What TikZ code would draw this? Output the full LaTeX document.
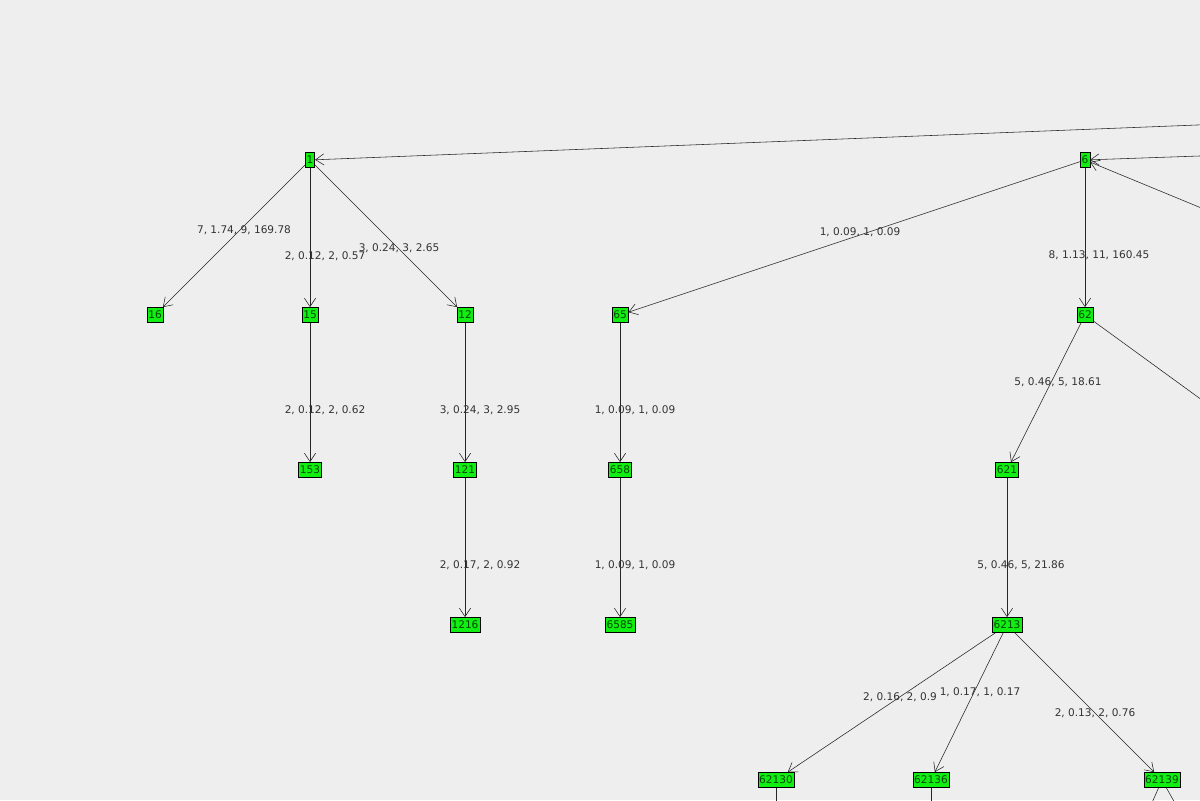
\documentclass[tikz,border=0pt]{standalone}
\usepackage{fontspec}
\setmainfont{DejaVu Sans}
\usetikzlibrary{arrows.meta,positioning}

\definecolor{canvas}{HTML}{EEEEEE}
\definecolor{vert}{HTML}{11EE11}
\definecolor{ink}{HTML}{333333}

\tikzset{
	tnode/.style={draw=black, fill=vert, inner sep=1pt, minimum height=0.38cm, font=\fontsize{7.5}{8}\selectfont, text=black!70!vert},
	tedge/.style={-{Straight Barb[length=6pt,width=8pt]}, black!85},
	tlab/.style={font=\fontsize{7.5}{8}\selectfont, text=ink, fill=none, inner sep=0pt}
}

\begin{document}
\begin{tikzpicture}[x=0.025cm, y=-0.025cm]
	\fill[canvas] (0,0) rectangle (1200,800);
	\useasboundingbox (0,0) rectangle (1200,800);
	\clip (0,0) rectangle (1200,800);
	
	% Level 0
	\node[tnode] (n1) at (310,160) {1};
	\node[tnode] (n6) at (1085,160) {6};
	
	% Level 1
	\node[tnode] (n16) at (155,315) {16};
	\node[tnode] (n15) at (310,315) {15};
	\node[tnode] (n12) at (465,315) {12};
	\node[tnode] (n65) at (620,315) {65};
	\node[tnode] (n62) at (1085,315) {62};
	
	% Level 2
	\node[tnode] (n153) at (310,470) {153};
	\node[tnode] (n121) at (465,470) {121};
	\node[tnode] (n658) at (620,470) {658};
	\node[tnode] (n621) at (1007,470) {621};
	
	% Level 3
	\node[tnode] (n1216) at (465,625) {1216};
	\node[tnode] (n6585) at (620,625) {6585};
	\node[tnode] (n6213) at (1007,625) {6213};
	
	% Level 4
	\node[tnode] (n62130) at (776,780) {62130};
	\node[tnode] (n62136) at (931,780) {62136};
	\node[tnode] (n62139) at (1162,780) {62139};
	
	% Off-canvas ends
	\coordinate (r1) at (1400,117);
	\coordinate (r6a) at (1400,149);
	\coordinate (r6b) at (1400,290);
	\coordinate (r62) at (1400,544);
	\coordinate (d62130) at (776,830);
	\coordinate (d62136) at (931,830);
	\coordinate (d62139a) at (1140,830);
	\coordinate (d62139b) at (1190,830);
	
	% Edges
	\draw[tedge] (r1) -- (n1);
	\draw[tedge] (r6a) -- (n6);
	\draw[tedge] (r6b) -- (n6);
	\draw[tedge] (n1) -- (n16);
	\draw[tedge] (n1) -- (n15);
	\draw[tedge] (n1) -- (n12);
	\draw[tedge] (n6) -- (n65);
	\draw[tedge] (n6) -- (n62);
	\draw[black!85] (n62) -- (r62);
	\draw[tedge] (n15) -- (n153);
	\draw[tedge] (n12) -- (n121);
	\draw[tedge] (n65) -- (n658);
	\draw[tedge] (n62) -- (n621);
	\draw[tedge] (n121) -- (n1216);
	\draw[tedge] (n658) -- (n6585);
	\draw[tedge] (n621) -- (n6213);
	\draw[tedge] (n6213) -- (n62130);
	\draw[tedge] (n6213) -- (n62136);
	\draw[tedge] (n6213) -- (n62139);
	\draw[black!85] (n62130) -- (d62130);
	\draw[black!85] (n62136) -- (d62136);
	\draw[black!85] (n62139) -- (d62139a);
	\draw[black!85] (n62139) -- (d62139b);
	
	% Edge labels
	\node[tlab] (l1) at (244,230) {7, 1.74, 9, 169.78};
	\node[tlab] (l2) at (325,256) {2, 0.12, 2, 0.57};
	\node[tlab] (l3) at (399,248) {3, 0.24, 3, 2.65};
	\node[tlab] (l4) at (860,232) {1, 0.09, 1, 0.09};
	\node[tlab] (l5) at (1099,255) {8, 1.13, 11, 160.45};
	\node[tlab] (l6) at (325,410) {2, 0.12, 2, 0.62};
	\node[tlab] (l7) at (480,410) {3, 0.24, 3, 2.95};
	\node[tlab] (l8) at (635,410) {1, 0.09, 1, 0.09};
	\node[tlab] (l9) at (1058,382) {5, 0.46, 5, 18.61};
	\node[tlab] (l10) at (480,565) {2, 0.17, 2, 0.92};
	\node[tlab] (l11) at (635,565) {1, 0.09, 1, 0.09};
	\node[tlab] (l12) at (1021,565) {5, 0.46, 5, 21.86};
	\node[tlab] (l13) at (900,697) {2, 0.16, 2, 0.9};
	\node[tlab] (l14) at (980,692) {1, 0.17, 1, 0.17};
	\node[tlab] (l15) at (1095,713) {2, 0.13, 2, 0.76};
\end{tikzpicture}
\end{document}
